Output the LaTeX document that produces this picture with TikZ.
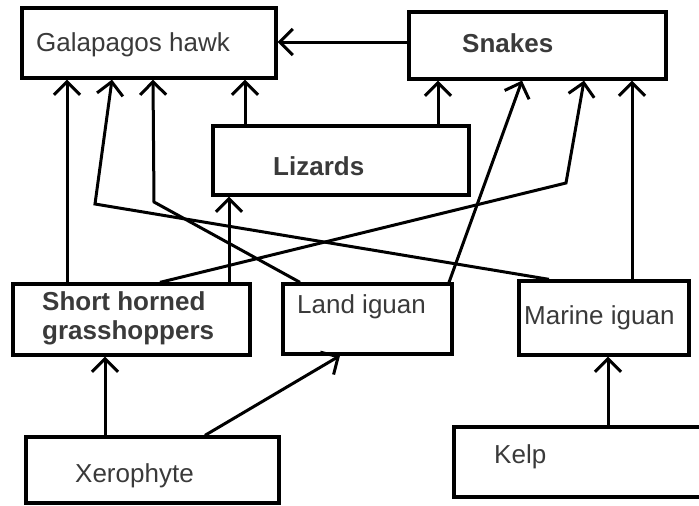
\documentclass[tikz,border=0pt]{standalone}
\usepackage{fontspec}
\setmainfont{Liberation Sans}
\usetikzlibrary{arrows.meta}
\definecolor{txt}{HTML}{3A3A3A}
\begin{document}
\begin{tikzpicture}[x=1pt,y=-1pt,
  box/.style={draw=black, line width=3.3pt, minimum width=#1, inner sep=0pt},
  lbl/.style={anchor=base west, inner sep=0pt, text=txt, font=\fontsize{26}{30}\selectfont},
  blbl/.style={lbl, font=\fontsize{26}{30}\selectfont\bfseries},
  feed/.style={line width=3pt, -{Straight Barb[length=13pt,width=26pt,line width=3pt]}}]
\useasboundingbox (0,0) rectangle (699,506);
\clip (0,0) rectangle (699,506);
% boxes
\node[box=254pt, minimum height=70pt] (hawk) at (149,43) {};
\node[box=257pt, minimum height=67pt] (snakes) at (537.5,45.5) {};
\node[box=256pt, minimum height=69pt] (lizards) at (341,160.5) {};
\node[box=237pt, minimum height=71pt] (grass) at (131.5,319.5) {};
\node[box=169pt, minimum height=70pt] (land) at (367.5,319) {};
\node[box=170pt, minimum height=74pt] (marine) at (604,318) {};
\node[box=253pt, minimum height=66pt] (xero) at (152.5,470) {};
\node[box=256pt, minimum height=70pt] (kelp) at (582,462) {};
% labels
\node[lbl] (thawk) at (36,51) {Galapagos hawk};
\node[blbl] (tsnakes) at (462,52) {Snakes};
\node[blbl] (tliz) at (273,175) {Lizards};
\node[blbl] (tgrassA) at (42,310) {Short horned};
\node[blbl] (tgrassB) at (42,339) {grasshoppers};
\node[lbl] (tland) at (297,313) {Land iguan};
\node[lbl] (tmarine) at (524,324) {Marine iguan};
\node[lbl] (txero) at (75,482) {Xerophyte};
\node[lbl] (tkelp) at (494,463) {Kelp};
% bend points
\coordinate (bm) at (95,204);
\coordinate (bl) at (154,202);
\coordinate (bg) at (566,183);
% connectors
\draw[feed] (snakes.west |- 0,42) -- (hawk.east |- 0,42);
\draw[feed] (67,0 |- grass.north) -- (67,0 |- hawk.south);
\draw[feed] (549,0 |- marine.north) -- (bm) -- (112,0 |- hawk.south);
\draw[feed] (300,0 |- land.north) -- (bl) -- (153,0 |- hawk.south);
\draw[feed] (245,0 |- lizards.north) -- (245,0 |- hawk.south);
\draw[feed] (438,0 |- lizards.north) -- (438,0 |- snakes.south);
\draw[feed] (449,0 |- land.north) -- (522,0 |- snakes.south);
\draw[feed] (160,0 |- grass.north) -- (bg) -- (584,0 |- snakes.south);
\draw[feed] (632,0 |- marine.north) -- (632,0 |- snakes.south);
\draw[feed] (229,0 |- grass.north) -- (229,0 |- lizards.south);
\draw[feed] (105,0 |- xero.north) -- (105,0 |- grass.south);
\draw[feed] (205,0 |- xero.north) -- (340,0 |- land.south);
\draw[feed] (608,0 |- kelp.north) -- (608,0 |- marine.south);
\end{tikzpicture}
\end{document}
